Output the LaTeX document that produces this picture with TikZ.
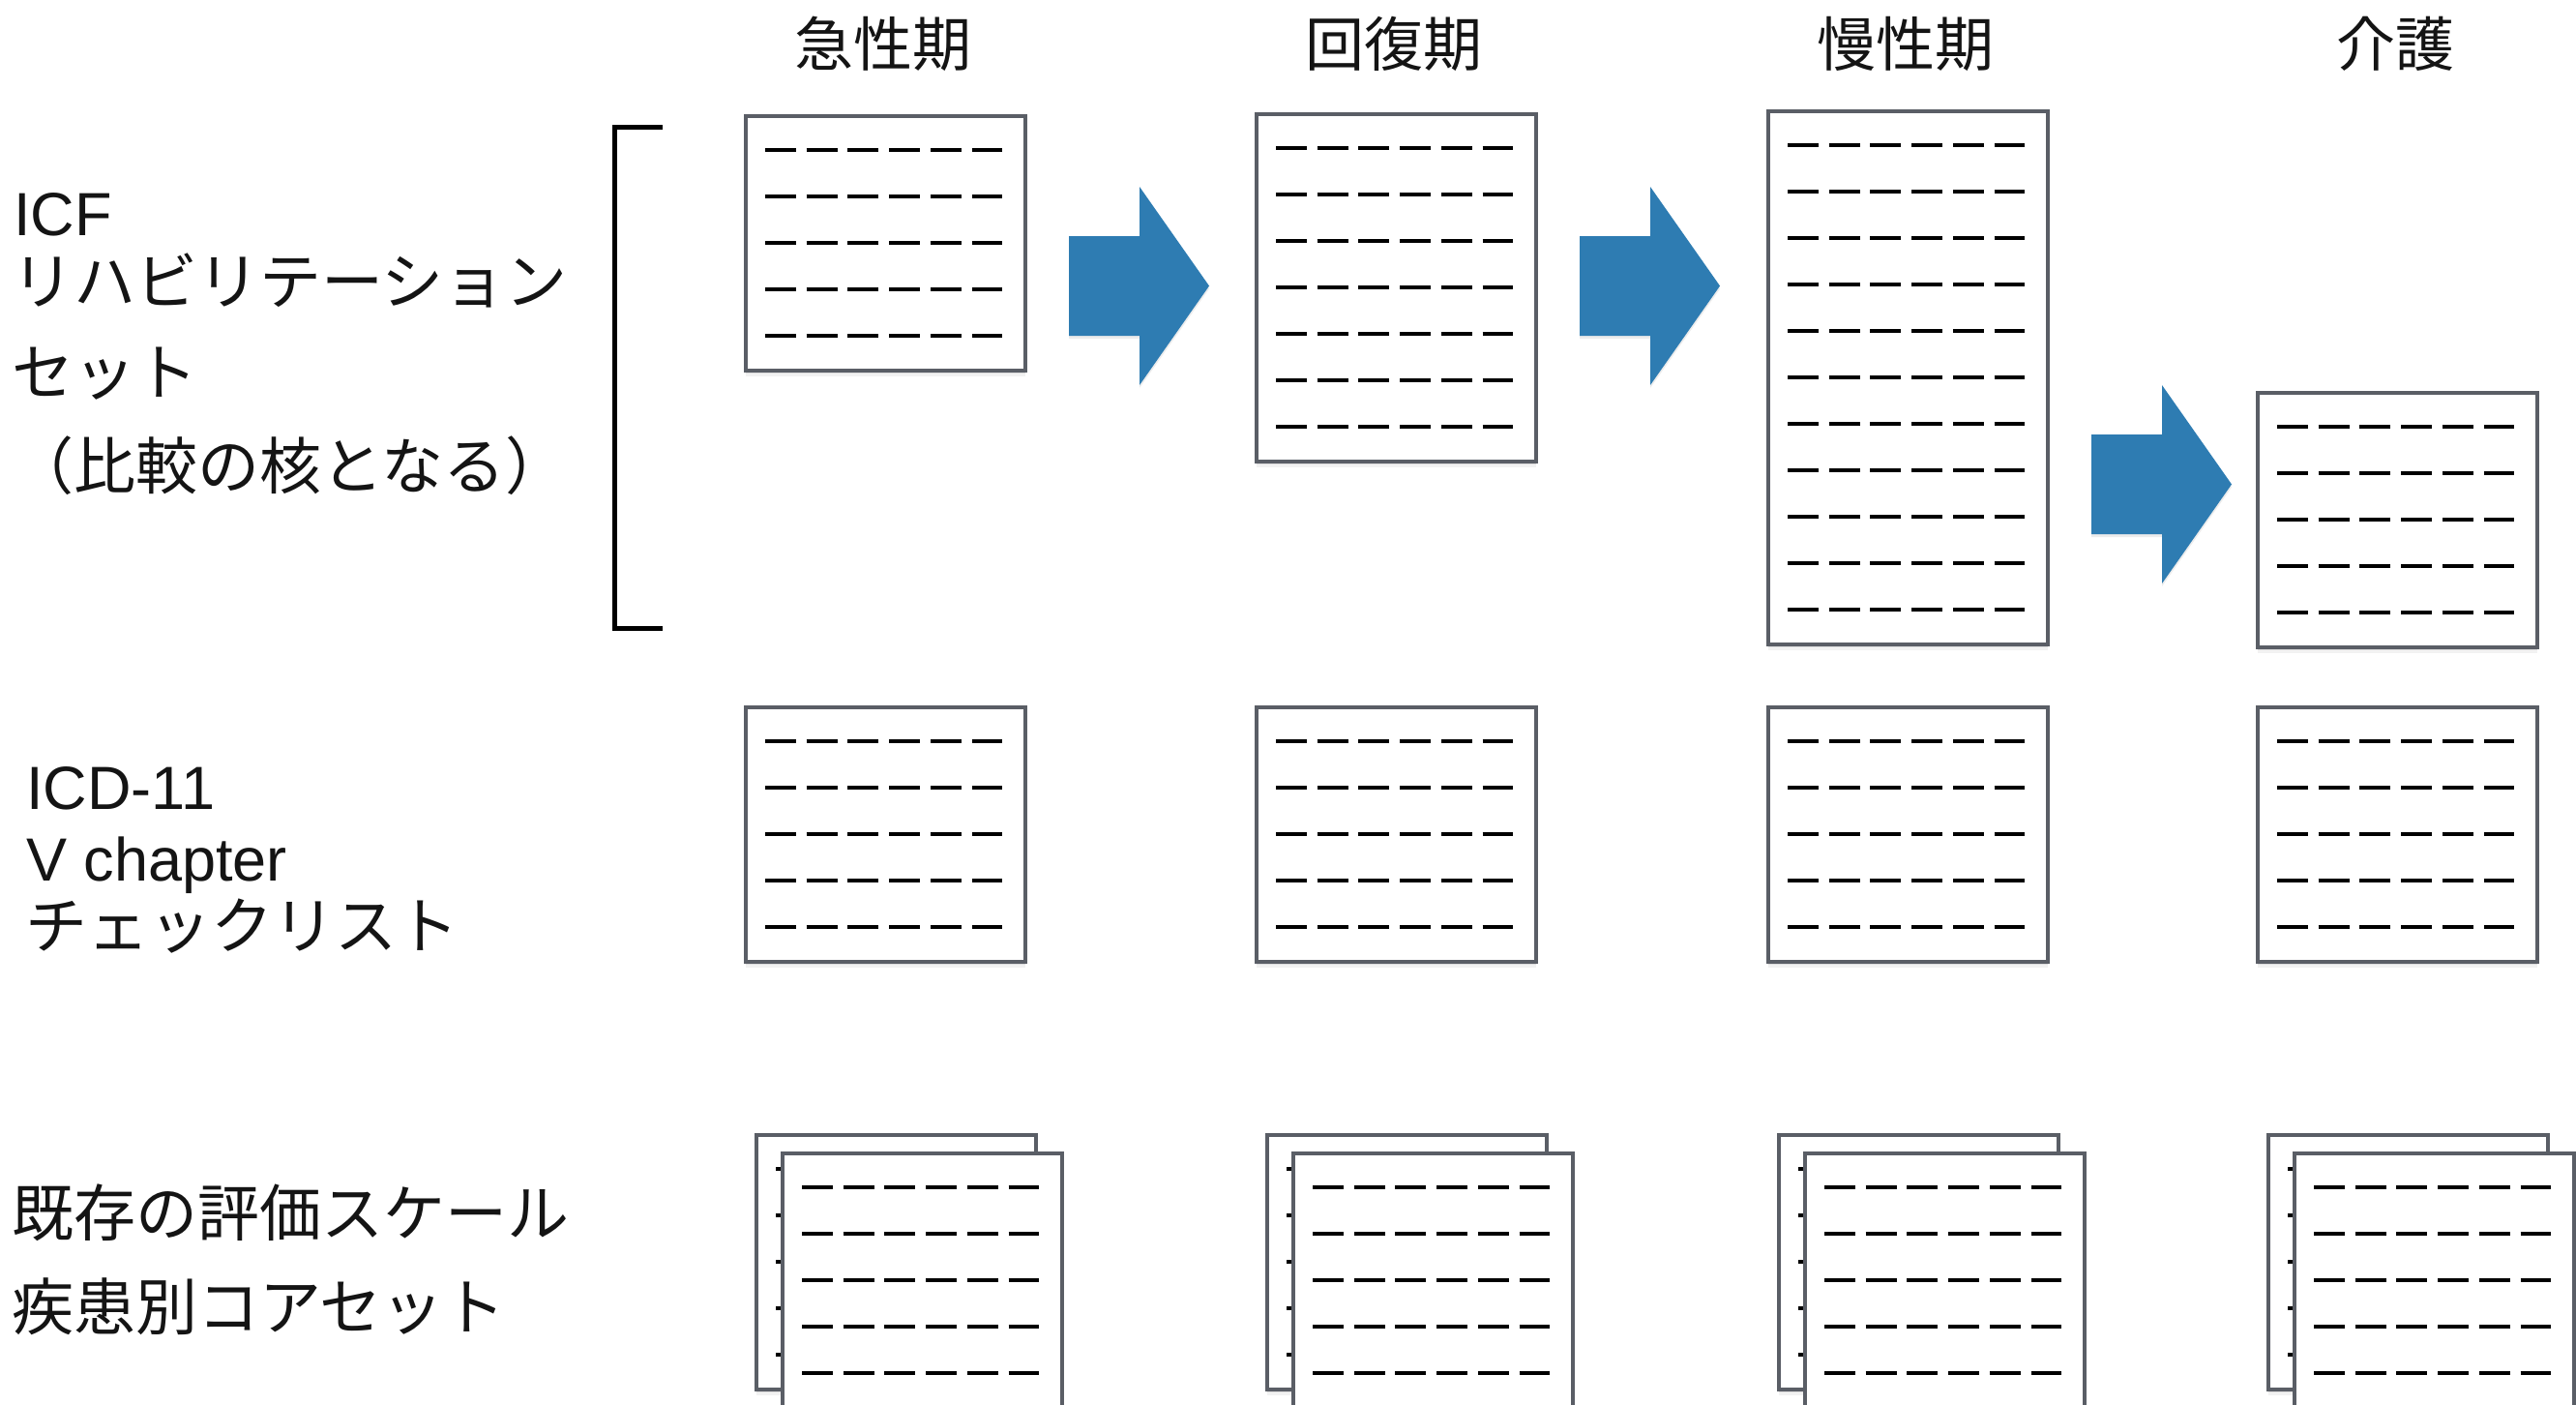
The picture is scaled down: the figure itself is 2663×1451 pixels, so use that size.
\documentclass[tikz,border=0pt]{standalone}
\usepackage{fontspec}
\setmainfont{Liberation Sans}
\newfontfamily\jp{Noto Sans CJK JP}
\usetikzlibrary{calc,shadows}
\definecolor{docgray}{RGB}{90,94,102}
\definecolor{arrowblue}{RGB}{46,124,178}
\definecolor{ink}{RGB}{20,20,20}
\tikzset{
  doc/.style={draw=docgray, line width=3.5pt, fill=white, minimum width=289pt, inner sep=0pt,
    drop shadow={shadow xshift=0pt, shadow yshift=-6pt, opacity=0.10},
    drop shadow={shadow xshift=0pt, shadow yshift=-3pt, opacity=0.18}},
  dashline/.style={line width=3.4pt, dash pattern=on 31.8pt off 10.9pt, black},
  jptext/.style={anchor=base west, inner sep=0pt, text=ink, font=\jp\fontsize{64pt}{76pt}\selectfont},
  latintext/.style={anchor=base west, inner sep=0pt, text=ink, font=\fontsize{63pt}{76pt}\selectfont},
  header/.style={anchor=base, inner sep=0pt, text=ink, font=\jp\fontsize{61pt}{72pt}\selectfont},
  blockarrow/.style={fill=arrowblue, drop shadow={shadow xshift=0pt, shadow yshift=-3pt, opacity=0.15}},
  bracketline/.style={line width=5pt, black}
}
\newcommand\docpage[4]{%
  \pgfmathsetmacro\dh{71+48*(#4-1)}%
  \node[doc, minimum height=\dh pt, anchor=north west] (#1) at (#2,#3) {};
  \foreach \k in {1,...,#4} {
    \draw[dashline] ($(#1.north west)+(22,37+48*\k-48)$) -- ++(245,0);
  }
}
\newcommand\flowarrow[3]{%
  \coordinate (#1) at (#2,#3);
  \fill[blockarrow] ($(#1)+(0,-51.5)$) -- ++(73,0) -- ++(0,-51) -- ($(#1)+(145,0)$)
     -- ($(#1)+(73,102.5)$) -- ++(0,-51) -- ($(#1)+(0,51.5)$) -- cycle;
}
\begin{document}
\begin{tikzpicture}[x=1pt,y=-1pt]
\useasboundingbox (0,0) rectangle (2663,1451);
\fill[white] (0,0) rectangle (2663,1451);

% column headers
\node[header] (h1) at (913,68) {急性期};
\node[header] (h2) at (1441,68) {回復期};
\node[header] (h3) at (1970,68) {慢性期};
\node[header] (h4) at (2476,68) {介護};

% left labels
\node[latintext] (icf) at (14,243) {ICF};
\node[jptext] (icf2) at (12,314) {リハビリテーション};
\node[jptext] (icf3) at (12,408) {セット};
\node[jptext] (icf4) at (12,505) {（比較の核となる）};
\node[latintext] (icd) at (27,836) {ICD-11};
\node[latintext] (icd2) at (27,910) {V chapter};
\node[jptext] (icd3) at (26,980) {チェックリスト};
\node[jptext] (sc1) at (12,1277) {既存の評価スケール};
\node[jptext] (sc2) at (12,1374) {疾患別コアセット};

% bracket
\coordinate (brt) at (685,131);
\coordinate (brtl) at (635,131);
\coordinate (brbl) at (635,649);
\coordinate (brb) at (685,649);
\draw[bracketline] (brt) -- (brtl) -- (brbl) -- (brb);

% row 1
\docpage{a1}{769}{118}{5}
\docpage{b1}{1297}{116}{7}
\docpage{c1}{1826}{113}{11}
\docpage{d1}{2332}{404}{5}

\flowarrow{ar1}{1105}{295.5}
\flowarrow{ar2}{1633}{295.5}
\flowarrow{ar3}{2162}{500.5}

% row 2
\docpage{a2}{769}{729}{5}
\docpage{b2}{1297}{729}{5}
\docpage{c2}{1826}{729}{5}
\docpage{d2}{2332}{729}{5}

% row 3 (stacked)
\docpage{a3b}{780}{1171}{5}
\docpage{a3f}{807}{1190}{5}
\docpage{b3b}{1308}{1171}{5}
\docpage{b3f}{1335}{1190}{5}
\docpage{c3b}{1837}{1171}{5}
\docpage{c3f}{1864}{1190}{5}
\docpage{d3b}{2343}{1171}{5}
\docpage{d3f}{2370}{1190}{5}
\end{tikzpicture}
\end{document}
